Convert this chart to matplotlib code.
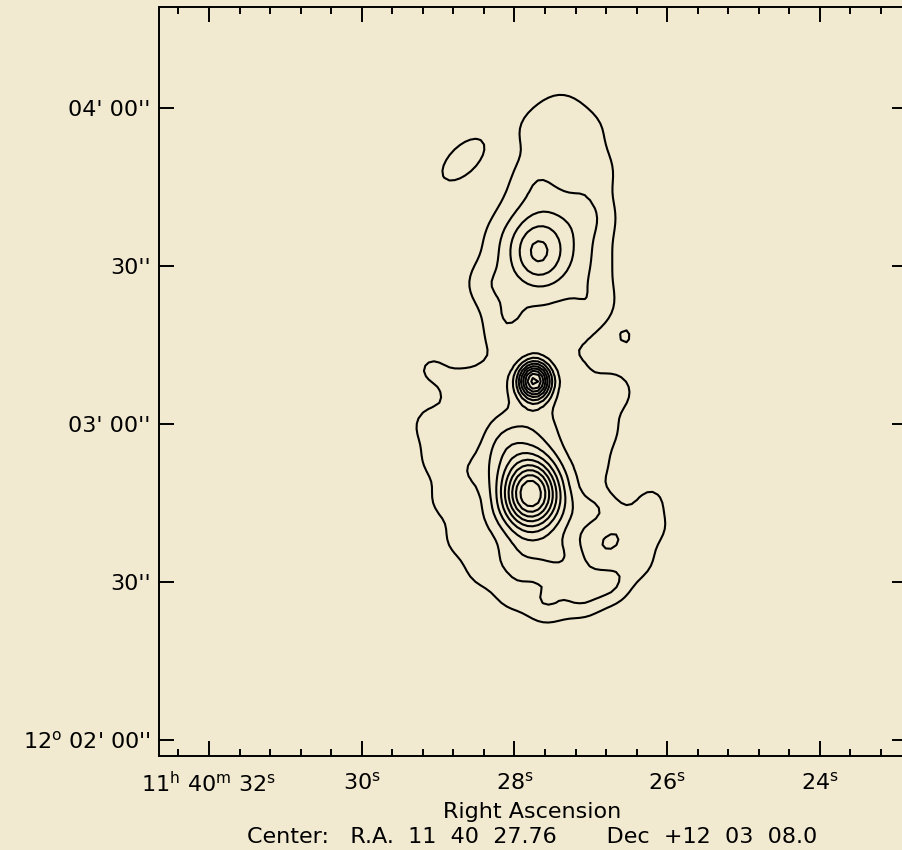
import numpy as np
import matplotlib
matplotlib.use('Agg')
import matplotlib.pyplot as plt
from matplotlib.ticker import FixedLocator

# map centre: R.A. 11 40 27.76, Dec +12 03 08.0
ra_centre = 27.76      # seconds of R.A. past 11h40m
dec_centre = 8.0       # arcsec past +12d03'
cos_dec = np.cos(np.radians(12.052))

# gaussian components of the source
# offsets from the centre in arcsec (east, north), peak, sigmas in arcsec, angle in deg
comp_east = [-0.3, 0.4,
             -5.5, -0.7, -10.9, -0.7, -11.7, -12.1, -12.6, -12.2, 7.4, 8.9, 5.1, -2.6, -9.0,
             -0.5, -3.2, 19.5, 14.1, 19.5, 7.9, -8.4, -15.5, -13.2, 0.3,
             18.5, 16.6, 14.1, 9.9, 4.1, -2.6, -9.4, -15.1, -19.9, -22.4, -22.8, -12.2, -12.2,
             11.8, 9.9, -5.5, 2.2, -8.4, 6.0, 0.3, -16.8, 7.0, 12.5, -11.3,
             13.5, -17.8]
comp_north = [0.2, -21.3,
              51.2, 47.8, 47.8, 39.3, 40.2, 31.7, 22.2, 14.6, 26.9, 18.4, 11.7, 9.8, 8.9,
              24.3, 26.0, 2.3, -0.6, -8.2, 0.4, 1.3, -1.9, -9.1, -7.2,
              -14.8, -22.4, -30.0, -35.7, -40.5, -42.4, -41.4, -38.6, -33.8, -27.2, -22.4, -24.3, -15.8,
              -16.7, -26.2, -33.8, -33.8, -26.2, -12.0, -22.4, -25.5, 7.0, -5.0, -36.1,
              42.1, 8.5]
comp_peak = [9.6, 9.3,
             1.3, 1.15, 1.0, 0.77, 1.26, 0.80, 0.34, 1.04, 0.33, 1.19, 1.27, 0.65, 0.55,
             2.27, 3.20, 1.10, 1.17, 1.44, 1.05, 0.90, 1.61, 1.31, 1.63,
             1.22, 1.19, 0.96, 0.94, 0.85, 1.43, 1.43, 1.6, 1.49, 1.56, 1.01, 1.05, 0.81,
             1.13, 0.43, 1.8, 1.23, 0.62, 1.34, 1.79, 0.55, 0.6, 0.85, 0.7,
             1.6, 1.30]
comp_sig_a = [2.24, 4.0,
              3.5, 3.5, 3.5, 3.5, 3.5, 3.5, 3.5, 3.5, 3.5, 3.5, 3.5, 3.5, 3.5,
              3.6, 7.0, 2.5, 3.0, 3.0, 3.0, 3.0, 3.0, 3.0, 6.0,
              3.0, 3.0, 3.0, 3.0, 3.0, 3.0, 3.0, 3.0, 3.0, 3.0, 2.0, 3.0, 3.0,
              3.5, 3.5, 3.5, 3.5, 3.5, 3.5, 8.0, 3.0, 3.0, 3.0, 3.5,
              5.0, 1.0]
comp_sig_b = [2.55, 4.8,
              3.5, 3.5, 3.5, 3.5, 3.5, 3.5, 3.5, 3.5, 3.5, 3.5, 3.5, 3.5, 3.5,
              4.4, 9.0, 2.5, 3.0, 3.0, 3.0, 3.0, 3.0, 3.0, 5.0,
              3.0, 3.0, 3.0, 3.0, 3.0, 3.0, 3.0, 3.0, 3.0, 3.0, 2.0, 3.0, 3.0,
              3.5, 3.5, 3.5, 3.5, 3.5, 3.5, 11.0, 3.0, 3.0, 3.0, 3.5,
              2.5, 1.3]
comp_angle = [0] * 49 + [135, 0]

levels = [1, 2, 3, 4, 5, 6, 7, 8, 9, 10]

xtick_vals = [32, 30, 28, 26, 24]
xtick_text = [r'11$^{\mathrm{h}}$ 40$^{\mathrm{m}}$ 32$^{\mathrm{s}}$', r'30$^{\mathrm{s}}$',
              r'28$^{\mathrm{s}}$', r'26$^{\mathrm{s}}$', r'24$^{\mathrm{s}}$']
ytick_vals = [-60, -30, 0, 30, 60]
ytick_text = [r"12$^{\mathrm{o}}$ 02' 00''", "30''", "03' 00''", "30''", "04' 00''"]

bg = '#f2ead0'
plt.rcParams['mathtext.fontset'] = 'dejavusans'
plt.rcParams['font.family'] = 'DejaVu Sans'

# map on a 1 arcsec grid
d = np.arange(-75, 75.1, 1.0)
X, Y = np.meshgrid(d, d)
img = np.zeros_like(X)
for e, n, pk, sa, sb, th in zip(comp_east, comp_north, comp_peak, comp_sig_a, comp_sig_b, comp_angle):
    t = np.radians(th)
    u = (X - e) * np.cos(t) + (Y - n) * np.sin(t)
    v = -(X - e) * np.sin(t) + (Y - n) * np.cos(t)
    img += pk * np.exp(-0.5 * ((u / sa) ** 2 + (v / sb) ** 2))
ra_grid = ra_centre + X / (15 * cos_dec)
dec_grid = dec_centre + Y

fig = plt.figure(figsize=(9.02, 8.50), dpi=100, facecolor=bg)
ax = fig.add_axes([159 / 902, 94 / 850, 747.6 / 902, 749 / 850])
ax.set_facecolor(bg)
ax.contour(ra_grid, dec_grid, img, levels=levels, colors='k', linewidths=1.5)

ax.set_xlim(32.655, 22.865)
ax.set_ylim(-63.1, 79.1)
ax.set_xticks(xtick_vals)
ax.set_xticklabels(xtick_text)
ax.xaxis.set_minor_locator(FixedLocator(np.round(np.arange(22.8, 33.0, 0.4), 1)))
ax.set_yticks(ytick_vals)
ax.set_yticklabels(ytick_text)
ax.tick_params(which='both', direction='in', top=True, right=True, width=1.4, colors='k')
ax.tick_params(which='major', length=10.5, labelsize=16)
ax.tick_params(axis='x', which='major', pad=11)
ax.tick_params(axis='y', which='major', pad=6)
ax.tick_params(which='minor', length=5)
for s in ax.spines.values():
    s.set_linewidth(1.4)

fig.text(532 / 902, 1 - 812 / 850, 'Right Ascension', ha='center', va='center', fontsize=16)
fig.text(532 / 902, 1 - 837 / 850, 'Center:   R.A.  11  40  27.76       Dec  +12  03  08.0',
         ha='center', va='center', fontsize=16)

fig.savefig('out.png', dpi=100, facecolor=bg)
